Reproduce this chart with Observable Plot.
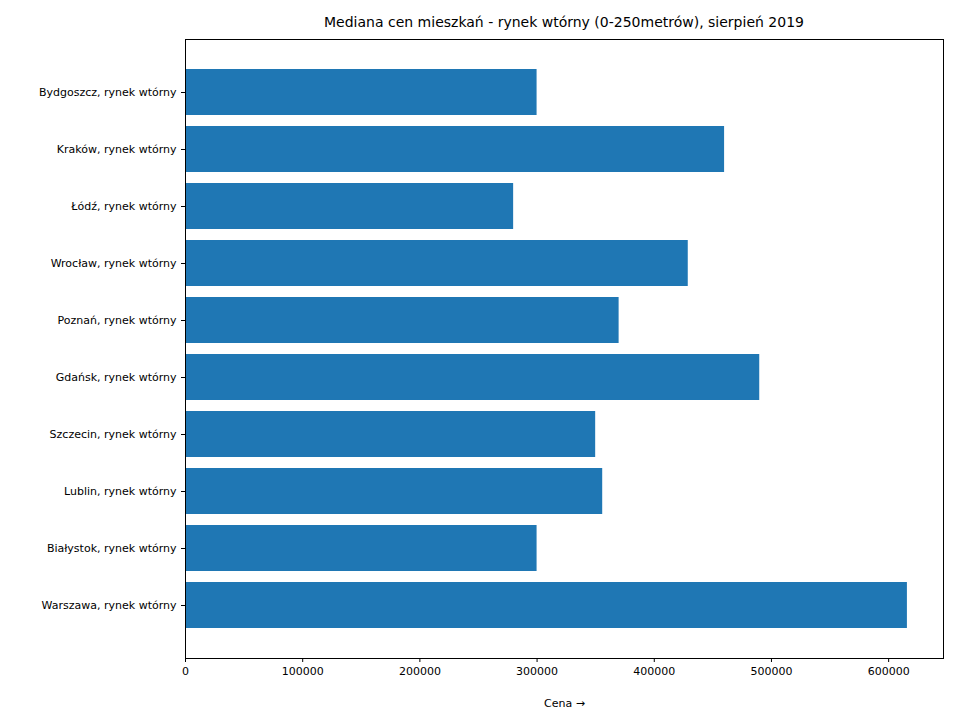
<!DOCTYPE html>
<html>
<head>
<meta charset="utf-8">
<script src="https://cdn.jsdelivr.net/npm/d3@7"></script>
<script src="https://cdn.jsdelivr.net/npm/@observablehq/plot@0.6"></script>
<style>
  body { margin: 0; background: #fff; font-family: "DejaVu Sans", sans-serif; }
  #title { height: 39px; width: 960px; box-sizing: border-box; padding-left: 185px; padding-right: 17px;
           text-align: center; font-size: 14px; line-height: 44px; color: #000; }
</style>
</head>
<body>
<div id="title">Mediana cen mieszkań - rynek wtórny (0-250metrów), sierpień 2019</div>
<div id="chart"></div>
<script>
// kolejność od góry do dołu
const cities = [
  "Bydgoszcz, rynek wtórny", "Kraków, rynek wtórny", "Łódź, rynek wtórny",
  "Wrocław, rynek wtórny", "Poznań, rynek wtórny", "Gdańsk, rynek wtórny",
  "Szczecin, rynek wtórny", "Lublin, rynek wtórny", "Białystok, rynek wtórny",
  "Warszawa, rynek wtórny"
];
const prices = [300000, 460000, 280000, 429000, 370000, 490000, 350000, 356000, 300000, 616000];
const xTicks = [0, 100000, 200000, 300000, 400000, 500000, 600000];

const data = cities.map((c, i) => ({city: c, price: prices[i]}));

const plot = Plot.plot({
  width: 960,
  height: 681,
  marginLeft: 185,
  marginRight: 17,
  marginTop: 0,
  marginBottom: 62,
  style: {fontFamily: "DejaVu Sans", fontSize: "11px", color: "#000"},
  x: {domain: [0, 616000 * 1.05], ticks: xTicks, tickFormat: d => String(d), label: "Cena",
      labelAnchor: "center", labelOffset: 48, tickSize: 4},
  y: {domain: cities, paddingInner: 0.2, paddingOuter: 0.5, label: null, tickSize: 4},
  marks: [
    Plot.barX(data, {x: "price", y: "city", fill: "#1f77b4"}),
    Plot.frame({stroke: "#000"})
  ]
});
document.getElementById("chart").appendChild(plot);
</script>
</body>
</html>
